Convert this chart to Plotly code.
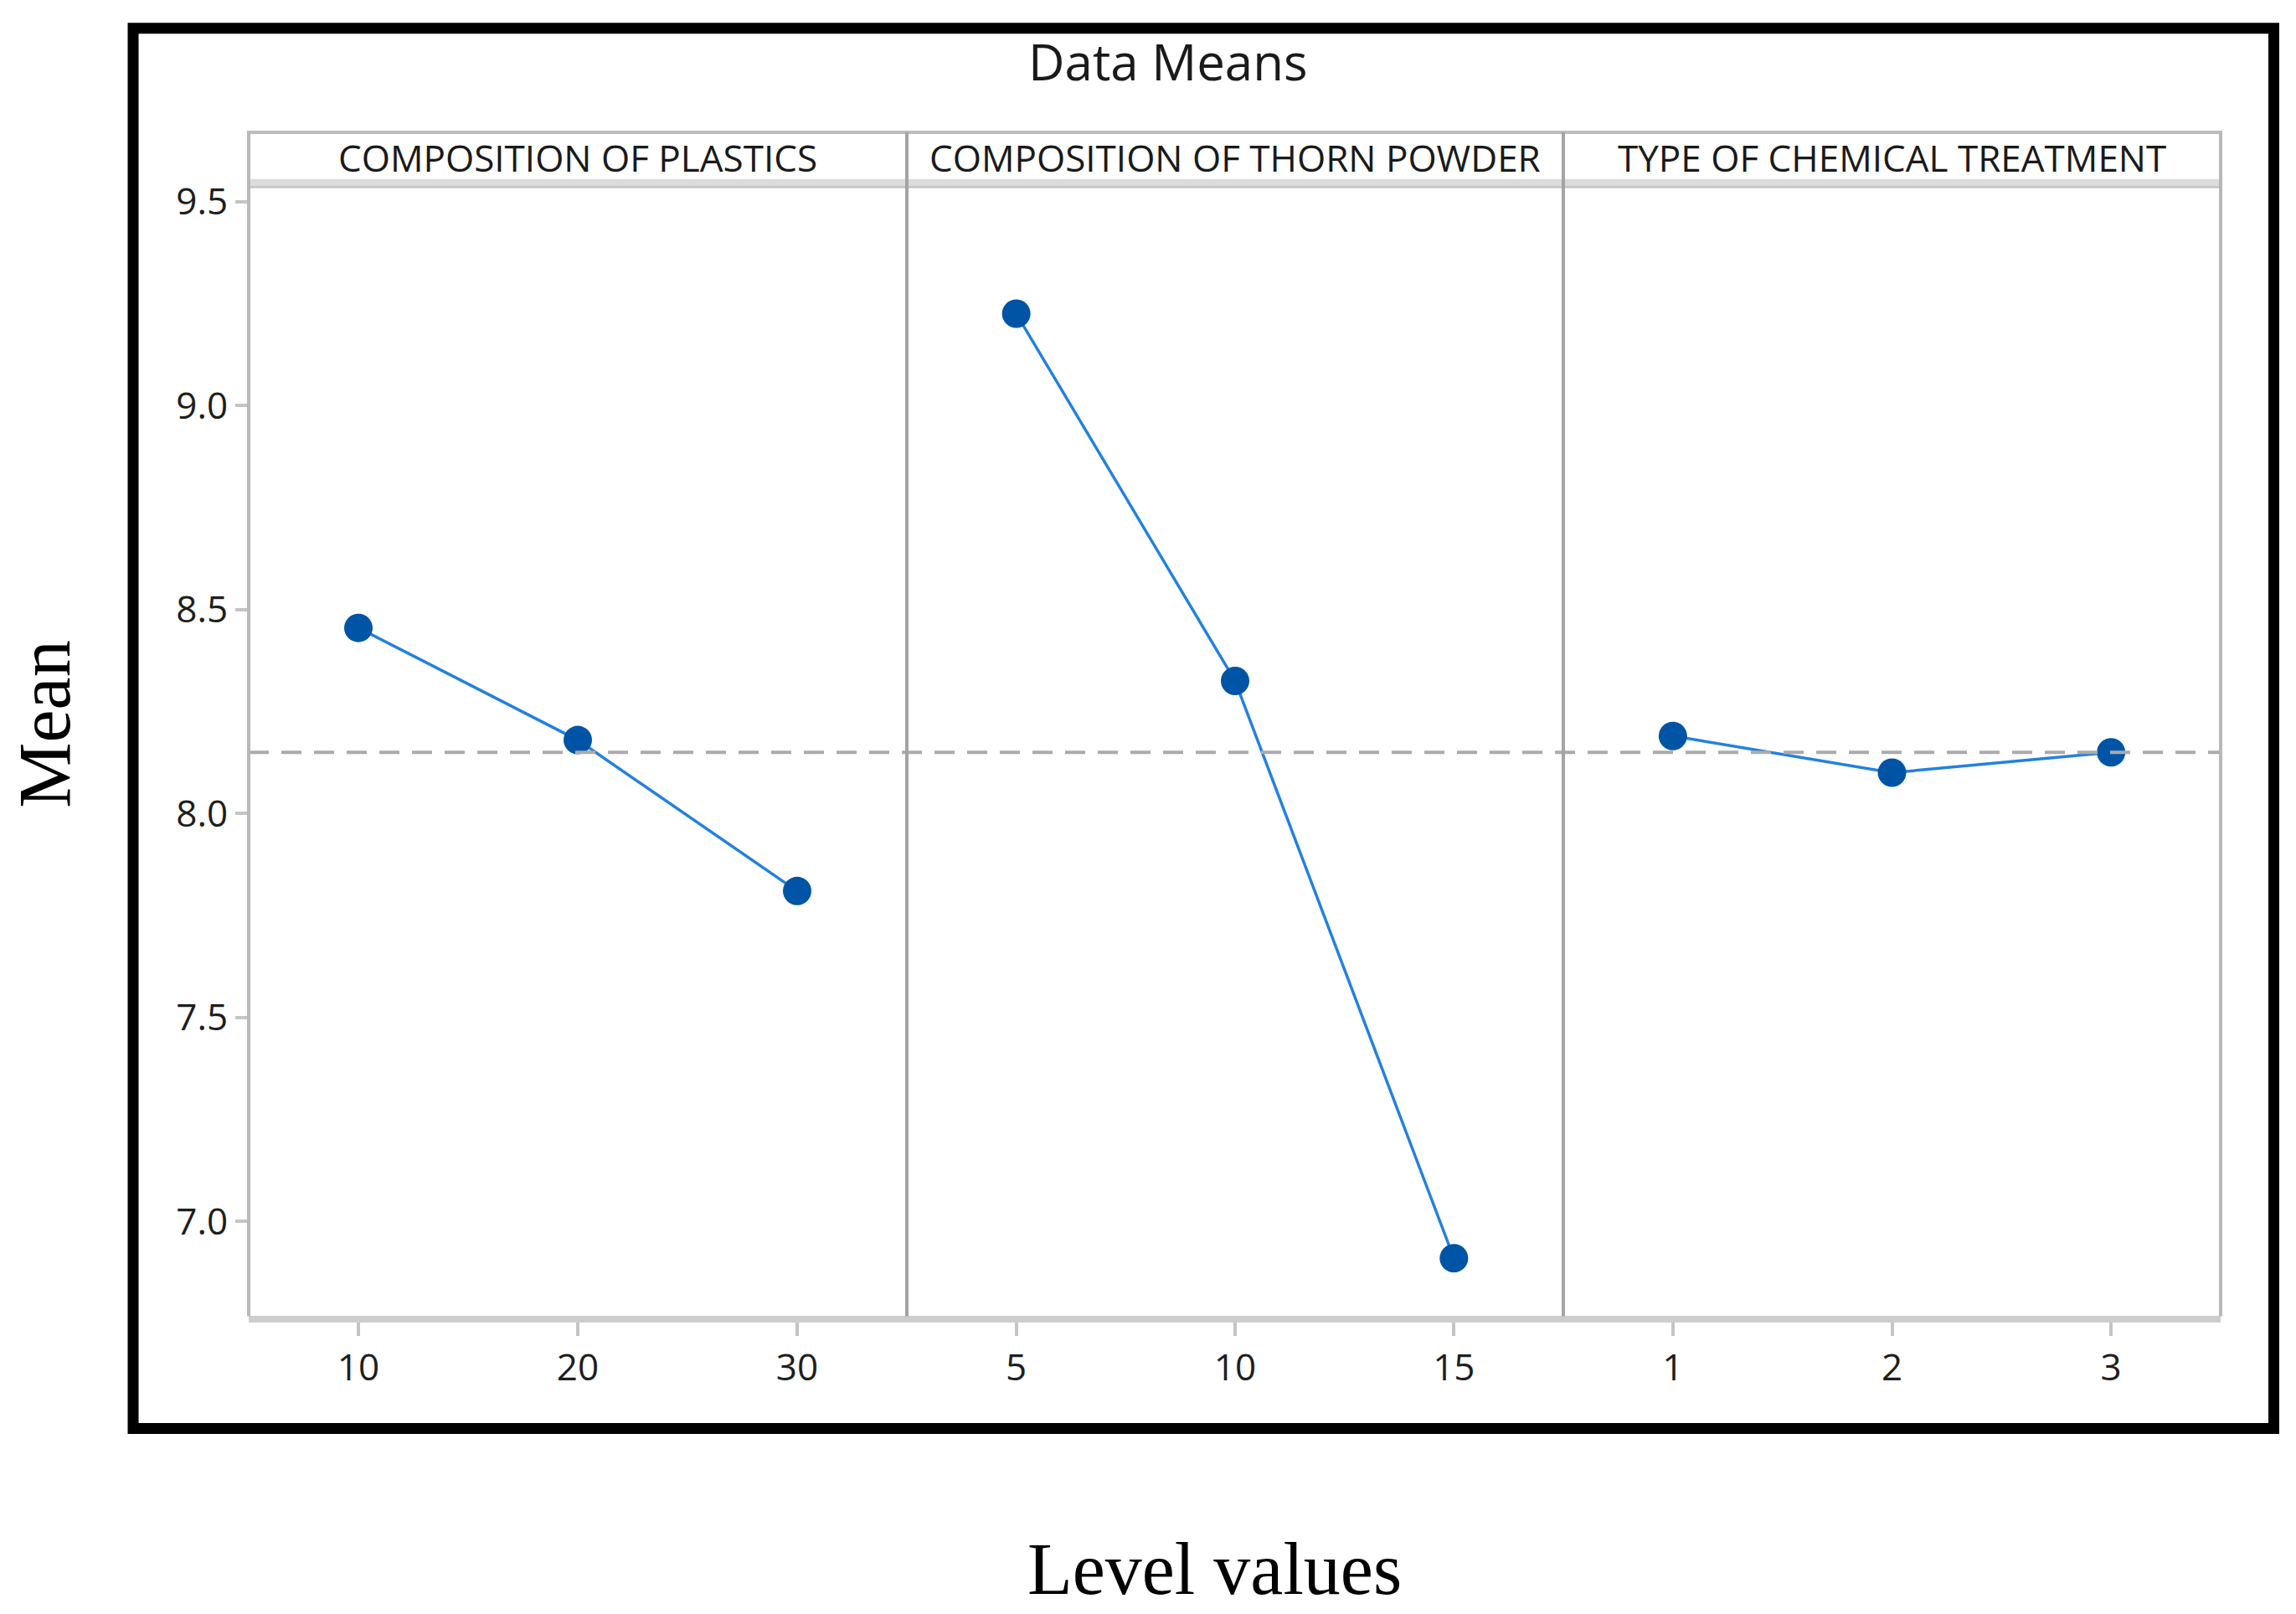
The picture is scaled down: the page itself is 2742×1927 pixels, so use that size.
import plotly.graph_objects as go

W, H = 2742, 1927

# ---------------- data ----------------
factor_names = ["COMPOSITION OF PLASTICS", "COMPOSITION OF THORN POWDER", "TYPE OF CHEMICAL TREATMENT"]
plastics_levels = [10, 20, 30]
plastics_means = [8.455, 8.18, 7.81]
thorn_levels = [5, 10, 15]
thorn_means = [9.225, 8.325, 6.91]
chem_levels = [1, 2, 3]
chem_means = [8.19, 8.10, 8.15]
grand_mean = 8.15
y_tick_values = [7.0, 7.5, 8.0, 8.5, 9.0, 9.5]

levels = [plastics_levels, thorn_levels, chem_levels]
means = [plastics_means, thorn_means, chem_means]

# ---------------- layout helpers ----------------
def px(x):
    return x / W

def py(y):
    return 1 - y / H

panel_edges = [297, 1083, 1867, 2652]
plot_top, plot_bottom = 211, 1569
strip_top = 146
strip_band = 202
y_range = [6.768, 9.537]

LINE_BLUE = "#2381E0"
MARK_BLUE = "#0054A6"
FRAME = "#B4B4B4"
TICKFONT = dict(family="Open Sans, Noto Sans, sans-serif", size=44, color="#1e1e1e")

fig = go.Figure()
for i in range(3):
    sfx = "" if i == 0 else str(i + 1)
    fig.add_trace(go.Scatter(
        x=levels[i], y=means[i], mode="lines+markers",
        line=dict(color=LINE_BLUE, width=3.5),
        marker=dict(color=MARK_BLUE, size=34),
        xaxis="x" + sfx, yaxis="y" + sfx, showlegend=False, hoverinfo="x+y",
    ))

layout = dict(
    width=W, height=H, margin=dict(l=0, r=0, t=0, b=0),
    paper_bgcolor="white", plot_bgcolor="white", showlegend=False,
)
for i in range(3):
    sfx = "" if i == 0 else str(i + 1)
    lv = levels[i]
    step = lv[1] - lv[0]
    layout["xaxis" + sfx] = dict(
        domain=[px(panel_edges[i]), px(panel_edges[i + 1])],
        range=[lv[0] - step / 2, lv[-1] + step / 2],
        tickmode="array", tickvals=lv, ticktext=[str(v) for v in lv],
        ticks="outside", ticklen=16, tickwidth=4, tickcolor="#C4C4C4",
        showline=True, mirror=False, linecolor="#CDCDCD", linewidth=8,
        showgrid=False, zeroline=False, tickfont=TICKFONT,
        anchor="y" + sfx, fixedrange=True,
    )
    ydict = dict(
        domain=[py(plot_bottom), py(plot_top)], range=y_range,
        showline=False, showgrid=False, zeroline=False,
        anchor="x" + sfx, fixedrange=True,
    )
    if i == 0:
        ydict.update(tickmode="array", tickvals=y_tick_values,
                     ticktext=["%.1f" % v for v in y_tick_values],
                     ticks="outside", ticklen=15, tickwidth=4, tickcolor="#C4C4C4",
                     tickfont=TICKFONT)
    else:
        ydict.update(matches="y", showticklabels=False, ticks="")
    layout["yaxis" + sfx] = ydict

shapes = []
# grand mean reference line
shapes.append(dict(type="line", xref="paper", yref="y",
                   x0=px(panel_edges[0]), x1=px(panel_edges[-1]),
                   y0=grand_mean, y1=grand_mean,
                   line=dict(color="#ABABAB", width=4, dash="24px,15px")))
# strip headers
for i in range(3):
    shapes.append(dict(type="rect", xref="paper", yref="paper",
                       x0=px(panel_edges[i]), x1=px(panel_edges[i + 1]),
                       y0=py(plot_top), y1=py(strip_top),
                       line=dict(color="#BDBDBD", width=4), fillcolor="white", layer="below"))
    shapes.append(dict(type="rect", xref="paper", yref="paper",
                       x0=px(panel_edges[i]), x1=px(panel_edges[i + 1]),
                       y0=py(plot_top), y1=py(strip_band),
                       line=dict(width=0), fillcolor="#DCDCDC", layer="above"))
# panel frame verticals (outer edges and dividers)
for j, xe in enumerate(panel_edges):
    outer = j in (0, len(panel_edges) - 1)
    shapes.append(dict(type="line", xref="paper", yref="paper",
                       x0=px(xe), x1=px(xe), y0=py(plot_bottom), y1=py(strip_top),
                       line=dict(color="#B8B8B8" if outer else "#A4A4A4", width=4)))
# outer black border
shapes.append(dict(type="rect", xref="paper", yref="paper",
                   x0=px(159), x1=px(2715.5), y0=py(1704), y1=py(21),
                   line=dict(color="black", width=13), fillcolor="rgba(0,0,0,0)"))
layout["shapes"] = shapes

annotations = []
for i in range(3):
    annotations.append(dict(
        text=factor_names[i], xref="paper", yref="paper",
        x=px((panel_edges[i] + panel_edges[i + 1]) / 2), y=py(176),
        xanchor="center", yanchor="middle", showarrow=False,
        font=dict(family="Open Sans, Noto Sans, sans-serif", size=44, color="#1a1a1a")))
annotations.append(dict(
    text="Data Means", xref="paper", yref="paper", x=px(1395), y=py(60),
    xanchor="center", yanchor="middle", showarrow=False,
    font=dict(family="Open Sans, Noto Sans, sans-serif", size=60, color="#1a1a1a")))
annotations.append(dict(
    text="Mean", xref="paper", yref="paper", x=px(3), y=py(858),
    xanchor="left", yanchor="middle", showarrow=False, textangle=-90,
    font=dict(family="Liberation Serif, Times New Roman, serif", size=88, color="black")))
annotations.append(dict(
    text="Level values", xref="paper", yref="paper", x=px(1450), y=py(1924),
    xanchor="center", yanchor="bottom", showarrow=False,
    font=dict(family="Liberation Serif, Times New Roman, serif", size=88, color="black")))
layout["annotations"] = annotations

fig.update_layout(**layout)
fig.write_html("out.html", config={"displayModeBar": False},
               post_script="document.body.style.margin='0';document.body.style.padding='0';")
